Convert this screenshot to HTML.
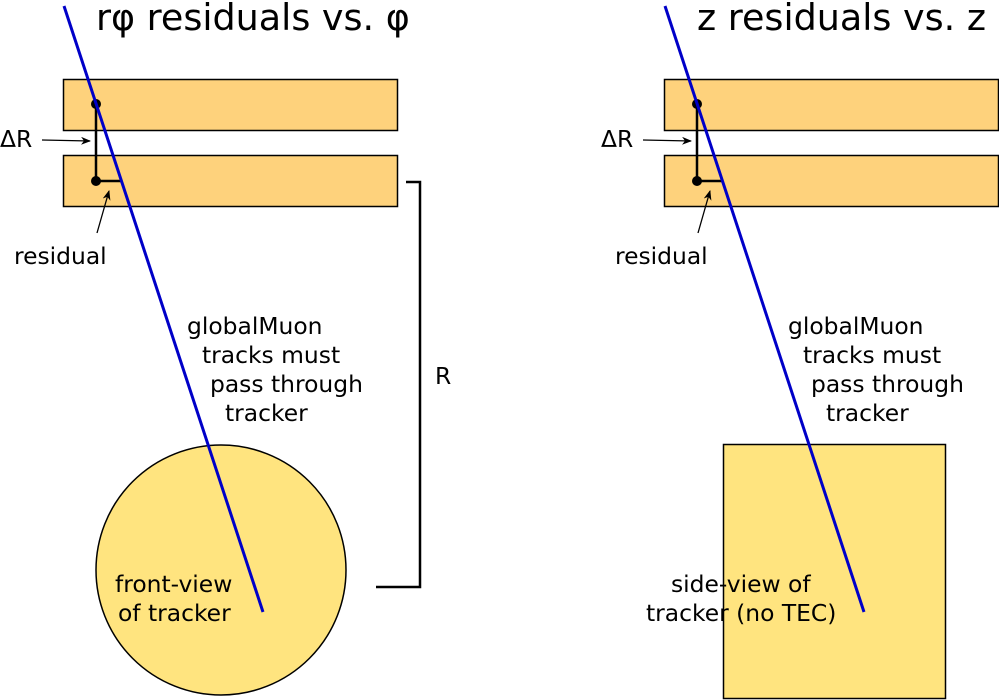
<!DOCTYPE html>
<html><head><meta charset="utf-8"><style>
html,body{margin:0;padding:0;background:#fff}
svg{display:block}
text{font-family:"DejaVu Sans","Liberation Sans",sans-serif;fill:#000}
</style></head><body>
<svg width="999" height="700" viewBox="0 0 999 700" xmlns="http://www.w3.org/2000/svg">
<defs><marker id="a" markerWidth="10" markerHeight="8" refX="9" refY="4" orient="auto" markerUnits="userSpaceOnUse"><path d="M0,0 L10,4 L0,8 L3,4 Z" fill="#000"/></marker></defs>
<!-- left -->
<text x="96" y="30" font-size="36.5">rφ residuals vs. φ</text>
<rect x="63.5" y="79.5" width="334" height="51" fill="#fed27c" stroke="#000" stroke-width="1.5"/>
<rect x="63.5" y="155.5" width="334" height="51" fill="#fed27c" stroke="#000" stroke-width="1.5"/>
<circle cx="221" cy="570" r="125" fill="#ffe47f" stroke="#000" stroke-width="1.5"/>
<path d="M406,182 H420 V587 H376" fill="none" stroke="#000" stroke-width="2.5"/>
<text x="435" y="384" font-size="23.4">R</text>
<path d="M96,104 V181 H121" fill="none" stroke="#000" stroke-width="2.5"/>
<circle cx="96" cy="104" r="5"/><circle cx="96" cy="181" r="5"/>
<line x1="42" y1="140" x2="90" y2="141" stroke="#000" stroke-width="1.3" marker-end="url(#a)"/>
<line x1="97" y1="233" x2="109" y2="191" stroke="#000" stroke-width="1.3" marker-end="url(#a)"/>
<text x="0" y="147" font-size="23.4">ΔR</text>
<text x="14" y="264" font-size="23.4">residual</text>
<text x="187" y="334" font-size="23.4">globalMuon</text>
<text x="202" y="363" font-size="23.4">tracks must</text>
<text x="210" y="392" font-size="23.4">pass through</text>
<text x="225" y="421" font-size="23.4">tracker</text>
<text x="115" y="592" font-size="23.4">front-view</text>
<text x="118" y="621" font-size="23.4">of tracker</text>
<line x1="64" y1="6" x2="263" y2="612" stroke="#0000c8" stroke-width="3"/>
<!-- right -->
<text x="697" y="30" font-size="36.5">z residuals vs. z</text>
<rect x="664.5" y="79.5" width="334" height="51" fill="#fed27c" stroke="#000" stroke-width="1.5"/>
<rect x="664.5" y="155.5" width="334" height="51" fill="#fed27c" stroke="#000" stroke-width="1.5"/>
<rect x="723.5" y="444.5" width="222" height="254" fill="#ffe47f" stroke="#000" stroke-width="1.5"/>
<path d="M697,104 V181 H722" fill="none" stroke="#000" stroke-width="2.5"/>
<circle cx="697" cy="104" r="5"/><circle cx="697" cy="181" r="5"/>
<line x1="643" y1="140" x2="691" y2="141" stroke="#000" stroke-width="1.3" marker-end="url(#a)"/>
<line x1="698" y1="233" x2="710" y2="191" stroke="#000" stroke-width="1.3" marker-end="url(#a)"/>
<text x="601" y="147" font-size="23.4">ΔR</text>
<text x="615" y="264" font-size="23.4">residual</text>
<text x="788" y="334" font-size="23.4">globalMuon</text>
<text x="803" y="363" font-size="23.4">tracks must</text>
<text x="811" y="392" font-size="23.4">pass through</text>
<text x="826" y="421" font-size="23.4">tracker</text>
<text x="671" y="592" font-size="23.4">side-view of</text>
<text x="646" y="621" font-size="23.4">tracker (no TEC)</text>
<line x1="665" y1="6" x2="864" y2="612" stroke="#0000c8" stroke-width="3"/>
</svg>
</body></html>
